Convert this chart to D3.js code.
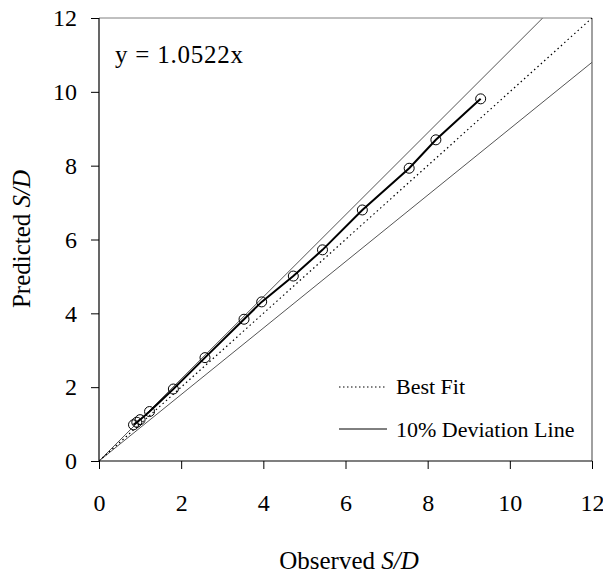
<!DOCTYPE html>
<html>
<head>
<meta charset="utf-8">
<script src="https://cdn.jsdelivr.net/npm/d3@7"></script>
<style>
  html, body { margin: 0; padding: 0; background: #fff; }
  svg text { font-family: "Liberation Serif", "Times New Roman", serif; fill: #000; }
</style>
</head>
<body>
<svg id="chart" width="603" height="577"></svg>
<script>
// Data
const observed  = [0.84, 0.92, 1.00, 1.23, 1.81, 2.58, 3.53, 3.96, 4.73, 5.44, 6.41, 7.55, 8.20, 9.29];
const predicted = [0.98, 1.05, 1.12, 1.34, 1.95, 2.80, 3.84, 4.31, 5.01, 5.72, 6.80, 7.93, 8.70, 9.81];
const xTicks = [0, 2, 4, 6, 8, 10, 12];
const yTicks = [0, 2, 4, 6, 8, 10, 12];
const bestFitSlope = 1.0;          // dotted reference line
const deviationSlopes = [1 / 0.9, 0.9]; // 10% deviation lines
const equationLabel = "y = 1.0522x";
const legendLabels = ["Best Fit", "10% Deviation Line"];

const svg = d3.select("#chart");
const x = d3.scaleLinear().domain([0, 12]).range([99, 592]);
const y = d3.scaleLinear().domain([0, 12]).range([461, 18]);

svg.append("clipPath").attr("id", "plotclip")
  .append("rect").attr("x", x(0)).attr("y", y(12)).attr("width", x(12) - x(0)).attr("height", y(0) - y(12));

// frame top/right
svg.append("line").attr("x1", x(0)).attr("x2", x(12)).attr("y1", y(12)).attr("y2", y(12))
  .attr("stroke", "#808080").attr("stroke-width", 1);
svg.append("line").attr("x1", x(12)).attr("x2", x(12)).attr("y1", y(12)).attr("y2", y(0))
  .attr("stroke", "#a0a0a0").attr("stroke-width", 2);

const g = svg.append("g").attr("clip-path", "url(#plotclip)");

// deviation lines
deviationSlopes.forEach(s => {
  const xEnd = Math.min(12, 12 / s);
  g.append("line")
    .attr("x1", x(0)).attr("y1", y(0))
    .attr("x2", x(xEnd)).attr("y2", y(s * xEnd))
    .attr("stroke", "#555").attr("stroke-width", 1);
});

// best fit dotted
g.append("line")
  .attr("x1", x(0)).attr("y1", y(0))
  .attr("x2", x(12)).attr("y2", y(bestFitSlope * 12))
  .attr("stroke", "#000").attr("stroke-width", 1.2).attr("stroke-dasharray", "1.5,3");

// data line
const pts = observed.map((v, i) => [v, predicted[i]]);
g.append("path")
  .attr("d", d3.line().x(d => x(d[0])).y(d => y(d[1]))(pts))
  .attr("fill", "none").attr("stroke", "#000").attr("stroke-width", 2);

g.selectAll("circle.pt").data(pts).enter().append("circle")
  .attr("class", "pt")
  .attr("cx", d => x(d[0])).attr("cy", d => y(d[1])).attr("r", 5)
  .attr("fill", "none").attr("stroke", "#000").attr("stroke-width", 1);

// axes
const xAxis = svg.append("g").attr("transform", `translate(0,${y(0)})`)
  .call(d3.axisBottom(x).tickValues(xTicks).tickSize(8).tickPadding(25).tickFormat(d3.format("d")));
const yAxis = svg.append("g").attr("transform", `translate(${x(0)},0)`)
  .call(d3.axisLeft(y).tickValues(yTicks).tickSize(8).tickPadding(14).tickFormat(d3.format("d")));
[xAxis, yAxis].forEach(a => {
  a.select(".domain").attr("stroke", "#000").attr("stroke-width", 1.2);
  a.selectAll(".tick line").attr("stroke", "#000").attr("stroke-width", 1);
  a.selectAll(".tick text").attr("font-size", 24).attr("font-family", "Liberation Serif");
});
xAxis.select(".domain").attr("d", `M${x(0)},0H${x(12)}`);
yAxis.select(".domain").attr("d", `M0,${y(0)}V${y(12)}`);

// equation
svg.append("text").attr("x", 115).attr("y", 63).attr("font-size", 25)
  .attr("textLength", 128).attr("lengthAdjust", "spacing").text(equationLabel);

// legend
svg.append("line").attr("x1", 339).attr("x2", 387).attr("y1", 387).attr("y2", 387)
  .attr("stroke", "#000").attr("stroke-width", 1).attr("stroke-dasharray", "1.5,2.5");
svg.append("text").attr("x", 396).attr("y", 394).attr("font-size", 22).text(legendLabels[0]);
svg.append("line").attr("x1", 339).attr("x2", 387).attr("y1", 429).attr("y2", 429)
  .attr("stroke", "#000").attr("stroke-width", 1);
svg.append("text").attr("x", 396).attr("y", 437).attr("font-size", 22).text(legendLabels[1]);

// axis titles
const xt = svg.append("text").attr("x", 349).attr("y", 569).attr("text-anchor", "middle").attr("font-size", 25);
xt.append("tspan").text("Observed ");
xt.append("tspan").attr("font-style", "italic").text("S/D");
const yt = svg.append("text").attr("transform", "translate(30,239) rotate(-90)").attr("text-anchor", "middle").attr("font-size", 25);
yt.append("tspan").text("Predicted ");
yt.append("tspan").attr("font-style", "italic").text("S/D");
</script>
</body>
</html>
